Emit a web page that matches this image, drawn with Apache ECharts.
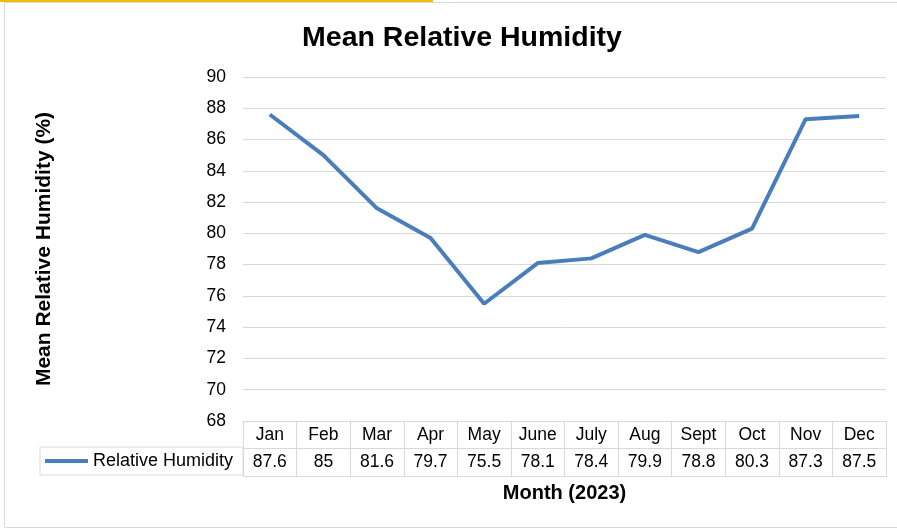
<!DOCTYPE html>
<html>
<head>
<meta charset="utf-8">
<script src="https://cdn.jsdelivr.net/npm/echarts@6/dist/echarts.min.js"></script>
<style>
html,body{margin:0;padding:0;background:#fff;}
#chart{width:897px;height:529px;}
</style>
</head>
<body>
<div id="chart"></div>
<script>
const months = ['Jan','Feb','Mar','Apr','May','June','July','Aug','Sept','Oct','Nov','Dec'];
const humidity = [87.6, 85, 81.6, 79.7, 75.5, 78.1, 78.4, 79.9, 78.8, 80.3, 87.3, 87.5];
const seriesName = 'Relative Humidity';
const yMin = 68, yMax = 90, yStep = 2;

const FONT = 'Liberation Sans, Arial, sans-serif';
const GRID = '#d9d9d9';
const chart = echarts.init(document.getElementById('chart'), null, {renderer: 'canvas'});
chart.setOption({
  animation: false,
  backgroundColor: '#fff',
  textStyle: {fontFamily: FONT},
  title: {
    text: 'Mean Relative Humidity',
    left: 457,
    textAlign: 'center',
    top: 19,
    textStyle: {fontFamily: FONT, fontSize: 28.5, fontWeight: 'bold', color: '#000'}
  },
  graphic: [
    {type: 'rect', silent: true, z: -1, shape: {x: 4.5, y: 2.5, width: 900, height: 525}, style: {fill: null, stroke: GRID, lineWidth: 1}},
    {type: 'rect', silent: true, shape: {x: 0, y: 0, width: 433, height: 2}, style: {fill: '#f5bd00'}}
  ],
  legend: {
    data: [seriesName],
    left: 40,
    top: 447,
    orient: 'horizontal',
    icon: 'rect',
    itemWidth: 43,
    itemHeight: 4,
    padding: [4, 10, 4, 5],
    borderColor: GRID,
    borderWidth: 1,
    selectedMode: false,
    textStyle: {fontFamily: FONT, fontSize: 18, color: '#000', lineHeight: 20}
  },
  grid: {left: 243, right: 11, top: 77, bottom: 108, containLabel: false},
  xAxis: [
    {
      type: 'category', data: months, position: 'bottom', boundaryGap: true,
      axisLine: {show: true, lineStyle: {color: GRID, width: 1}},
      axisTick: {show: true, length: 55, interval: 0, lineStyle: {color: GRID}},
      axisLabel: {interval: 0, margin: 5, fontFamily: FONT, fontSize: 17.5, color: '#000'}
    },
    {
      type: 'category', data: months, position: 'bottom', offset: 27, boundaryGap: true,
      axisLine: {show: true, lineStyle: {color: GRID, width: 1}},
      axisTick: {show: false},
      axisLabel: {interval: 0, margin: 5, fontFamily: FONT, fontSize: 17.5, color: '#000',
        formatter: function (v, i) { return String(humidity[i]); }}
    },
    {
      type: 'category', data: months, position: 'bottom', offset: 55, boundaryGap: true,
      axisLine: {show: true, lineStyle: {color: GRID, width: 1}},
      axisTick: {show: false},
      axisLabel: {show: false},
      name: 'Month (2023)', nameLocation: 'middle', nameGap: 7,
      nameTextStyle: {fontFamily: FONT, fontSize: 20, fontWeight: 'bold', color: '#000'}
    }
  ],
  yAxis: {
    type: 'value', min: yMin, max: yMax, interval: yStep,
    axisLine: {show: false}, axisTick: {show: false},
    splitLine: {show: true, lineStyle: {color: GRID, width: 1}},
    axisLabel: {margin: 17, fontFamily: FONT, fontSize: 17.5, color: '#000'},
    name: 'Mean Relative Humidity (%)', nameLocation: 'middle', nameRotate: 90, nameGap: 188,
    nameTextStyle: {fontFamily: FONT, fontSize: 21, fontWeight: 'bold', color: '#000'}
  },
  series: [{
    name: seriesName,
    type: 'line',
    xAxisIndex: 0,
    data: humidity,
    symbol: 'none',
    lineStyle: {color: '#4a7ebb', width: 4},
    itemStyle: {color: '#4a7ebb'}
  }]
});
</script>
</body>
</html>
